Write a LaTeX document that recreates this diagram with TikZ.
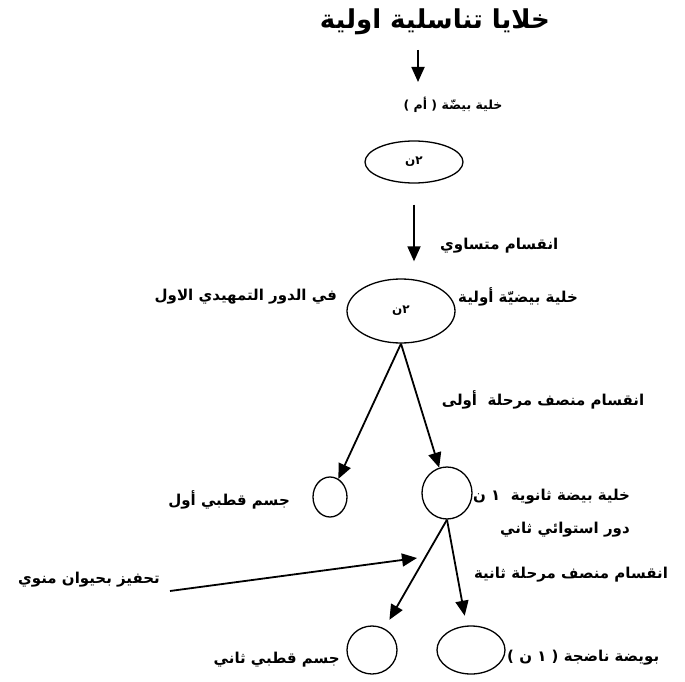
\documentclass[tikz,border=0pt]{standalone}
\usepackage{fontspec}
\usetikzlibrary{arrows.meta,shapes.geometric}
\newfontfamily\arabicfont[Script=Arabic,BoldFont={DejaVu Sans Bold}]{DejaVu Sans}
\TeXXeTstate=1

\begin{document}
\begin{tikzpicture}[x=1pt,y=-1pt,
  cell/.style={draw,ellipse,line width=1.3pt,inner sep=0pt,
    font=\arabicfont\bfseries\fontsize{12}{14}\selectfont},
  lbl/.style={inner sep=0pt,font=\arabicfont\bfseries\fontsize{15}{17}\selectfont},
  arr/.style={line width=1.8pt,-{Triangle[length=15pt,width=13pt]}}]
\useasboundingbox (0,0) rectangle (685,682);

% title
\node[lbl,font=\arabicfont\bfseries\fontsize{26}{30}\selectfont] (title) at (435,22) {\beginR خلايا تناسلية اولية\endR};
\coordinate (t0) at (418,50);
\coordinate (t1) at (418,82);
\draw[arr] (t0) -- (t1);

% mother cell 2n
\node[lbl,font=\arabicfont\bfseries\fontsize{12.5}{15}\selectfont] (mother) at (453,105) {\beginR خلية بيضّة ( أم )\endR};
\node[cell,minimum width=98pt,minimum height=42pt] (e1) at (414,162) {\beginR ٢ن\endR};

% primary oocyte
\node[cell,minimum width=108pt,minimum height=64pt] (e2) at (401,311) {\beginR ٢ن\endR};
\node[lbl,anchor=west] (prim) at (458,297) {\beginR خلية بيضيّة أولية\endR};
\node[lbl,anchor=east] (prophase) at (337,297) {\beginR في الدور التمهيدي الاول\endR};

% equal division
\draw[arr] ([yshift=-21pt]e1.south) -- ([yshift=17pt]e2.north -| e1.south);
\node[lbl,anchor=west] (equal) at (440,246) {\beginR انقسام متساوي\endR};

% first meiotic division
\node[cell,minimum width=34pt,minimum height=40pt] (c1) at (330,497) {};
\node[cell,minimum width=50pt,minimum height=52pt] (c2) at (447,493) {};
\draw[arr] (e2.south) -- (c1);
\draw[arr] (e2.south) -- (c2);
\node[lbl] (meio1) at (543,400) {\beginR انقسام منصف مرحلة\ \ أولى\endR};
\node[lbl,anchor=east] (pol1) at (290,500) {\beginR جسم قطبي أول\endR};
\node[lbl,anchor=west] (sec) at (473,497) {\beginR خلية بيضة ثانوية\ \ ١ ن\endR};
\node[lbl] (meta) at (565,530) {\beginR دور استوائي ثاني\endR};

% second meiotic division
\node[cell,minimum width=50pt,minimum height=48pt] (c3) at (372,650) {};
\node[cell,minimum width=68pt,minimum height=48pt] (c4) at (471,650) {};
\draw[arr,shorten >=10pt] (c2.south) -- (c3);
\draw[arr,shorten >=10pt] (c2.south) -- (c4);
\node[lbl] (meio2) at (571,575) {\beginR انقسام منصف مرحلة ثانية\endR};
\node[lbl,anchor=east] (pol2) at (340,660) {\beginR جسم قطبي ثاني\endR};
\node[lbl,anchor=west] (ovum) at (507,658) {\beginR بويضة ناضجة ( ١ ن )\endR};

% sperm
\node[lbl,anchor=east] (sperm) at (160,580) {\beginR تحفيز بحيوان منوي\endR};
\coordinate (s0) at (170,591);
\coordinate (s1) at (417,558);
\draw[arr] (s0) -- (s1);
\end{tikzpicture}
\end{document}
